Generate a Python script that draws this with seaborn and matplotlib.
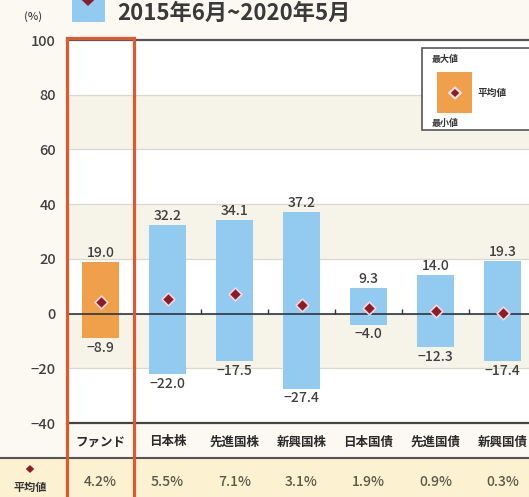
import numpy as np
import pandas as pd
import seaborn as sns
import matplotlib.pyplot as plt
from matplotlib.patches import Rectangle, RegularPolygon
from matplotlib import transforms

categories = ['ファンド', '日本株', '先進国株', '新興国株', '日本国債', '先進国債', '新興国債']
max_vals = [19.0, 32.2, 34.1, 37.2, 9.3, 14.0, 19.3]
min_vals = [-8.9, -22.0, -17.5, -27.4, -4.0, -12.3, -17.4]
mean_vals = [4.2, 5.5, 7.1, 3.1, 1.9, 0.9, 0.3]
yticks = [-40, -20, 0, 20, 40, 60, 80, 100]
title = '2015年6月~2020年5月'
mean_label = '平均値'
legend_labels = ['最大値', '平均値', '最小値']

W, H = 529, 497
FUND_C = '#f0a04a'
BLUE_C = '#92cbef'
DOT_C = '#8c1c2c'
TXT_C = '#3f3f3f'
BG = '#fbf9f2'
BAND = '#f6f3e8'

sns.set_theme(style='white')
plt.rcParams['font.family'] = ['Noto Sans CJK JP', 'DejaVu Sans']

fig = plt.figure(figsize=(W / 100, H / 100), dpi=100, facecolor=BG)


def fx(p):
    return p / W


def fy(p):
    return 1 - p / H


AX_L, AX_T, AX_B = 67, 40, 423
ax = fig.add_axes([fx(AX_L), fy(AX_B), fx(W - AX_L), (AX_B - AX_T) / H])
ax.set_facecolor('white')

df = pd.DataFrame({'cat': categories, 'lo': min_vals, 'hi': max_vals, 'mean': mean_vals})
df['range'] = df['hi'] - df['lo']

sns.barplot(data=df, x='cat', y='range', bottom=df['lo'], color=BLUE_C,
            width=0.55, saturation=1, ax=ax, zorder=3, errorbar=None)
bars = list(ax.patches)
for i, p in enumerate(bars):
    p.set_facecolor(FUND_C if i == 0 else BLUE_C)
    p.set_edgecolor('none')

# bands & grid
for a, b in [(60, 80), (20, 40), (-20, 0)]:
    ax.axhspan(a, b, facecolor=BAND, zorder=0, lw=0)
for t in yticks[1:-1]:
    ax.axhline(t, color='#d9d8d0', lw=0.9, zorder=1)

sns.stripplot(data=df, x='cat', y='mean', jitter=False, marker='D', size=6.5,
              color=DOT_C, edgecolor='#f7d6d6', linewidth=1.2, ax=ax, zorder=6)

ax.axhline(0, color='#2e3440', lw=1.2, zorder=4)
n = len(categories)
ax.vlines(np.arange(n - 1) + 0.5, 0, 1.6, color='#2e3440', lw=1.0, zorder=4)

for i, (hi, lo) in enumerate(zip(max_vals, min_vals)):
    ax.annotate(f'{hi:.1f}', (i, hi), xytext=(0, 1.5), textcoords='offset points',
                ha='center', va='bottom', fontsize=10, fontweight='medium',
                color=TXT_C, zorder=7)
    ax.annotate(f'{lo:.1f}'.replace('-', '\u2212'), (i, lo), xytext=(0, -2),
                textcoords='offset points', ha='center', va='top',
                fontsize=10, fontweight='medium', color=TXT_C, zorder=7)

ax.set_ylim(-40, 100)
ax.set_xlim(-0.5, -0.5 + (W - AX_L) / 67.0)
ax.set_yticks(yticks)
ax.set_yticklabels([str(t).replace('-', '\u2212') for t in yticks], fontsize=10.5,
                   color=TXT_C, fontweight='medium')
ax.tick_params(axis='y', length=0, pad=8)
ax.tick_params(axis='x', length=0, pad=9, labelsize=9, labelcolor='#2a2a2a')
for lab in ax.get_xticklabels():
    lab.set_fontweight('bold')
ax.set_xlabel('')
ax.set_ylabel('')
for s in ['left', 'right']:
    ax.spines[s].set_visible(False)
ax.spines['top'].set_color('#555555')
ax.spines['top'].set_linewidth(1.6)
ax.spines['bottom'].set_color('#444444')
ax.spines['bottom'].set_linewidth(1.6)

# table row
fig.patches.append(Rectangle((0, 0), 1, fy(459), transform=fig.transFigure,
                             facecolor='#fcf1d0', edgecolor='none', zorder=0))
fig.lines.append(plt.Line2D([0, 1], [fy(458), fy(458)], transform=fig.transFigure,
                            color='#555555', lw=1.5))
bt = transforms.blended_transform_factory(ax.transData, fig.transFigure)
for i, m in enumerate(mean_vals):
    fig.text(i, fy(482), f'{m:.1f}%', transform=bt, ha='center', va='center',
             fontsize=10, fontweight='medium', color='#5a5848')
fig.text(fx(30), fy(487), mean_label, ha='center', va='center', fontsize=8,
         fontweight='bold', color='#333333')
fig.patches.append(RegularPolygon((fx(30), fy(469)), 4, radius=0.008,
                                  transform=fig.transFigure, facecolor=DOT_C,
                                  edgecolor='none'))

# red highlight frame
fig.patches.append(Rectangle((-0.5, fy(505)), 1.0, fy(38) - fy(505), transform=bt,
                             fill=False, edgecolor='#dc5a2e', lw=2.3, zorder=10,
                             clip_on=False))

# legend box
fig.patches.append(Rectangle((fx(422), fy(130)), fx(120), fy(48) - fy(130),
                             transform=fig.transFigure, facecolor='white',
                             edgecolor='#555555', lw=1.2, zorder=8))
fig.patches.append(Rectangle((fx(437), fy(113)), fx(35), fy(72) - fy(113),
                             transform=fig.transFigure, facecolor=FUND_C,
                             edgecolor='none', zorder=9))
fig.patches.append(RegularPolygon((fx(455), fy(93)), 4, radius=0.011,
                                  transform=fig.transFigure, facecolor=DOT_C,
                                  edgecolor='#fbe3e3', lw=1.5, zorder=10))
fig.text(fx(445), fy(59), legend_labels[0], ha='center', va='center', fontsize=6.5,
         fontweight='bold', color='#333333', zorder=10)
fig.text(fx(477), fy(93), legend_labels[1], ha='left', va='center', fontsize=7,
         fontweight='bold', color='#333333', zorder=10)
fig.text(fx(445), fy(123), legend_labels[2], ha='center', va='center', fontsize=6.5,
         fontweight='bold', color='#333333', zorder=10)

# title
fig.patches.append(Rectangle((fx(72), fy(22)), fx(33), fy(-5) - fy(22),
                             transform=fig.transFigure, facecolor=BLUE_C,
                             edgecolor='none'))
fig.patches.append(RegularPolygon((fx(88), fy(0)), 4, radius=0.012,
                                  transform=fig.transFigure, facecolor=DOT_C,
                                  edgecolor='none'))
fig.text(fx(117), fy(13), title, ha='left', va='center', fontsize=16,
         fontweight='bold', color='#3a3a3a')
fig.text(fx(33), fy(17), '(%)', ha='center', va='center', fontsize=8,
         fontweight='medium', color=TXT_C)

fig.savefig('out.png', dpi=100, facecolor=BG)
